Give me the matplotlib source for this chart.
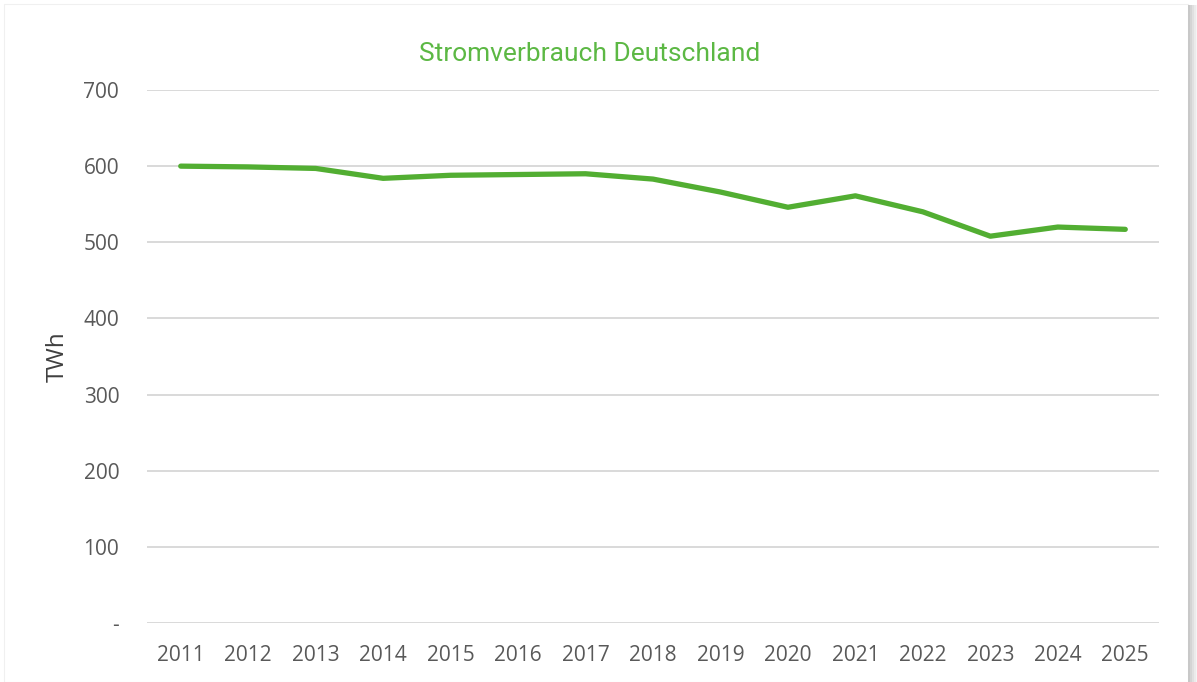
import numpy as np
import matplotlib.pyplot as plt
from matplotlib.patches import Rectangle

years = ["2011", "2012", "2013", "2014", "2015", "2016", "2017", "2018",
         "2019", "2020", "2021", "2022", "2023", "2024", "2025"]
verbrauch = [600, 599, 597, 584, 588, 589, 590, 583,
             566, 546, 561, 540, 508, 520, 517]
yticks = [0, 100, 200, 300, 400, 500, 600, 700]
ytick_labels = ["-", "100", "200", "300", "400", "500", "600", "700"]

fig = plt.figure(figsize=(11.97, 6.82), dpi=100)
fig.patch.set_facecolor("white")

# faint frame + shadow on the right side
fig.add_artist(Rectangle((4 / 1197, 0), 1184 / 1197, 678 / 682,
                         transform=fig.transFigure, fill=False,
                         edgecolor="#f0f0f0", lw=0.8))
for i, c in enumerate(["#c8c8c8", "#d4d4d4", "#e0e0e0", "#ebebeb", "#f4f4f4"]):
    fig.add_artist(Rectangle(((1188 + 2 * i) / 1197, 0), 2 / 1197, 677 / 682,
                             transform=fig.transFigure, color=c, lw=0))

ax = fig.add_axes([147 / 1197, 1 - 623 / 682, (1159 - 147) / 1197, (623 - 90) / 682])
x = np.arange(len(years))
ax.plot(x, verbrauch, color="#52ae32", lw=3.8, solid_capstyle="round",
        solid_joinstyle="round", zorder=3)

ax.set_xlim(-0.5, len(years) - 0.5)
ax.set_ylim(0, 700)
ax.set_yticks(yticks)
ax.set_yticklabels(ytick_labels)
ax.set_xticks(x)
ax.set_xticklabels(years)
ax.grid(axis="y", color="#d9d9d9", lw=1.4)
ax.set_axisbelow(True)
for s in ax.spines.values():
    s.set_visible(False)
ax.tick_params(length=0, labelsize=15, labelcolor="#595959")
ax.tick_params(axis="x", pad=16)
ax.tick_params(axis="y", pad=20)
for lab in ax.get_xticklabels() + ax.get_yticklabels():
    lab.set_fontfamily("Open Sans")

ax.set_ylabel("TWh", fontsize=17.5, color="#404040", family="Open Sans")
ax.yaxis.set_label_coords(-0.076, 0.5)

fig.text(590 / 1197, 1 - 54 / 682, "Stromverbrauch Deutschland", ha="center",
         va="center", fontsize=19, color="#5cb844", family="Roboto")

fig.savefig("out.png", dpi=100)
